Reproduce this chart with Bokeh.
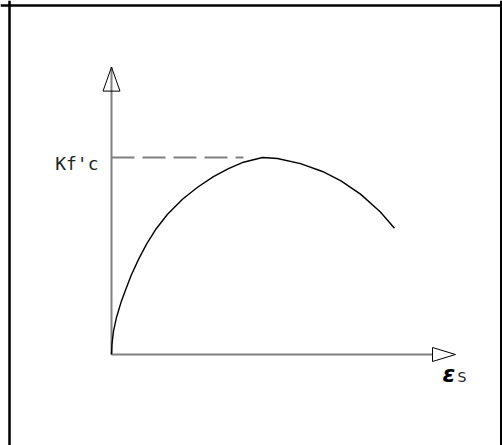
from bokeh.plotting import figure
from bokeh.models import Range1d, Span
from bokeh.core.properties import value
from bokeh.embed import file_html
from bokeh.resources import INLINE

# ---- data (normalised: strain / peak strain, stress / Kf'c) ----
strain = [0.0, 0.003, 0.013, 0.033, 0.066, 0.093, 0.132, 0.179, 0.232, 0.291,
          0.371, 0.470, 0.570, 0.675, 0.775, 0.874, 1.0, 1.099, 1.252, 1.397,
          1.517, 1.649, 1.781, 1.874]
stress = [0.0, 0.051, 0.117, 0.188, 0.272, 0.328, 0.405, 0.483, 0.560, 0.633,
          0.712, 0.788, 0.849, 0.903, 0.944, 0.976, 1.0, 0.995, 0.969, 0.929,
          0.883, 0.814, 0.723, 0.641]
peak_label = "Kf'c"
peak_value = 1.0
x_label_main = "ε"
x_label_sub = "S"

# axis extents (data units)
y_axis_tip = 1.459
y_head_base = 1.337
x_axis_tip = 2.278
x_head_base = 2.126

# ---- layout ----
W, H = 502, 445
OX, OY = 111, 354          # origin (px)
SX, SY = 151.0, 197.0      # px per unit

def dx(px):
    return (px - OX) / SX

def dy(py):
    return (OY - py) / SY

p = figure(width=W, height=H, output_backend="svg", toolbar_location=None,
           x_axis_type=None, y_axis_type=None, min_border=0,
           x_range=Range1d(dx(0), dx(W)), y_range=Range1d(dy(H), dy(0)))
p.grid.visible = False
p.outline_line_color = None
p.background_fill_color = "white"
p.border_fill_color = "white"

# frame (open at the bottom)
p.add_layout(Span(location=dx(9), dimension="height", line_color="black", line_width=2.5))
p.add_layout(Span(location=dx(500.5), dimension="height", line_color="black", line_width=2))
p.add_layout(Span(location=dy(5), dimension="width", line_color="black", line_width=2.5))

axis_col = "#808080"
# axes
p.line([0, 0], [0, y_axis_tip], line_color=axis_col, line_width=2)
p.line([0, x_head_base], [0, 0], line_color=axis_col, line_width=2)

# arrow heads
hw = 8.5 / SX
p.patch([-hw, 0, hw], [y_head_base, y_axis_tip, y_head_base],
        fill_color="white", fill_alpha=0.0, line_color="black", line_width=1)
hh = 7.0 / SY
p.patch([x_head_base, x_axis_tip, x_head_base], [-hh, 0, hh],
        fill_color="white", line_color="black", line_width=1)

# dashed level line up to where the curve reaches the peak level
meet = next(s for s, v in zip(strain, stress) if v >= 0.975 * peak_value)
p.line([0, meet], [peak_value, peak_value], line_color=axis_col, line_width=2,
       line_dash="23 8")

# stress-strain curve
p.line(strain, stress, line_color="black", line_width=1.4)

# labels
p.text(x=[0], y=[peak_value], text=[peak_label], x_offset=-13, y_offset=6,
       text_align="right", text_baseline="alphabetic",
       text_font=value("DejaVu Sans Mono"), text_font_size="18px",
       text_color="#222222")
p.text(x=[x_axis_tip], y=[0], text=[x_label_main], x_offset=-13, y_offset=19,
       text_align="left", text_baseline="alphabetic",
       text_font=value("DejaVu Sans"), text_font_style="bold italic",
       text_font_size="23px", text_color="black")
p.text(x=[x_axis_tip], y=[0], text=[x_label_sub], x_offset=2, y_offset=22,
       text_align="left", text_baseline="alphabetic",
       text_font=value("DejaVu Sans"), text_font_size="14px",
       text_color="#222222")

open("out.html", "w").write(file_html(p, INLINE))
